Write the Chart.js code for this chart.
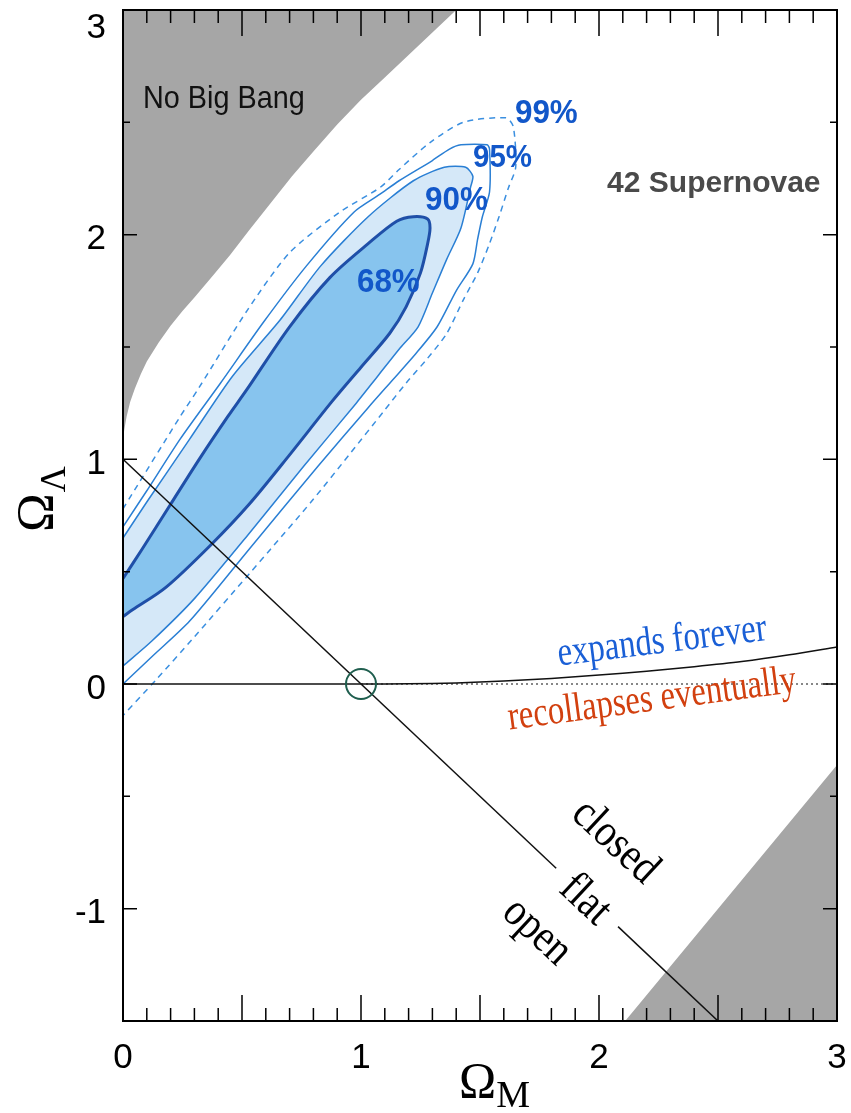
<!DOCTYPE html>
<html>
<head>
<meta charset="utf-8">
<title>Omega_M - Omega_Lambda</title>
<script src="https://cdn.jsdelivr.net/npm/chart.js@4.4.1/dist/chart.umd.min.js"></script>
<style>
  html, body { margin: 0; padding: 0; background: #fff; }
  #wrap { position: relative; width: 851px; height: 1113px; }
</style>
</head>
<body>
<div id="wrap"><canvas id="myChart"></canvas></div>
<script>
// tick labels
const xTickLabels = [0, 1, 2, 3];
const yTickLabels = [3, 2, 1, 0, -1];

// confidence regions, outlines as [Omega_M, Omega_Lambda]
const contour68 = [[0,0.47],[0.08,0.60],[0.20,0.80],[0.32,1.00],[0.44,1.19],[0.52,1.31],[0.70,1.59],[0.87,1.81],[1.03,1.96],[1.15,2.06],[1.22,2.08],[1.28,2.07],[1.29,2.03],[1.28,1.96],[1.25,1.83],[1.19,1.68],[1.12,1.56],[1.00,1.41],[0.88,1.26],[0.70,1.02],[0.53,0.80],[0.37,0.62],[0.18,0.43],[0.04,0.33],[0,0.30]];
const contour90 = [[0,0.65],[0.10,0.81],[0.28,1.09],[0.46,1.37],[0.66,1.62],[0.83,1.86],[1.03,2.08],[1.22,2.24],[1.35,2.30],[1.44,2.30],[1.47,2.26],[1.46,2.21],[1.42,2.03],[1.36,1.89],[1.30,1.74],[1.24,1.59],[1.16,1.49],[1.07,1.37],[0.98,1.25],[0.76,0.97],[0.53,0.67],[0.30,0.38],[0.12,0.19],[0,0.08]];
const contour95 = [[0,0.70],[0.10,0.86],[0.24,1.09],[0.41,1.34],[0.59,1.61],[0.77,1.86],[0.97,2.10],[1.08,2.18],[1.16,2.24],[1.30,2.33],[1.37,2.38],[1.42,2.40],[1.53,2.40],[1.54,2.38],[1.54,2.19],[1.51,2.08],[1.49,1.98],[1.47,1.87],[1.40,1.75],[1.32,1.59],[1.23,1.47],[1.13,1.35],[1.03,1.23],[0.82,0.97],[0.53,0.60],[0.28,0.28],[0.12,0.12],[0,0.00]];
const contour99 = [[0,0.78],[0.24,1.19],[0.32,1.32],[0.52,1.66],[0.70,1.92],[0.91,2.10],[1.08,2.21],[1.16,2.29],[1.29,2.41],[1.43,2.50],[1.61,2.52],[1.64,2.48],[1.65,2.30],[1.62,2.21],[1.58,2.08],[1.54,1.96],[1.49,1.83],[1.43,1.71],[1.36,1.56],[1.28,1.45],[1.19,1.34],[1.10,1.22],[0.95,1.02],[0.79,0.81],[0.62,0.60],[0.53,0.49],[0.30,0.21],[0.14,0.02],[0,-0.14]];

// excluded regions
const noBigBang = [[0,1.08],[0.005,1.13],[0.015,1.19],[0.03,1.255],[0.05,1.315],[0.075,1.38],[0.10,1.435],[0.15,1.52],[0.20,1.595],[0.25,1.66],[0.30,1.72],[0.38,1.82],[0.45,1.91],[0.53,2.02],[0.62,2.14],[0.71,2.26],[0.80,2.37],[0.90,2.49],[1.00,2.60],[1.10,2.70],[1.20,2.80],[1.30,2.90],[1.40,3.00],[0,3.00]];
const bounceRegion = [[2.11,-1.50],[3.00,-0.36],[3.00,-1.50]];

// flat universe line (broken for the "flat" label)
const flatUpper = [[0,1],[1.82,-0.82]];
const flatLower = [[2.08,-1.08],[2.50,-1.50]];

// expands forever / recollapses boundary
const zeroSolid = [[0,0],[1,0]];
const zeroDotted = [[1,0],[3,0]];
const expandEdge = [[1.0,0],[1.2,0.001],[1.4,0.005],[1.6,0.013],[1.8,0.025],[2.0,0.040],[2.2,0.057],[2.4,0.077],[2.6,0.100],[2.8,0.130],[3.0,0.165]];

// Einstein-de Sitter point
const edsPoint = [[1, 0]];

const pts = (arr) => arr.map(p => ({x: p[0], y: p[1]}));

// text placed on the plot (positions in data units, sx = horizontal squeeze)
const notes = [
  {text: 'No Big Bang', x: 0.084, y: 2.565, font: '32px "Liberation Sans"', color: '#111', align: 'left', base: 'alphabetic', angle: 0, sx: 0.9},
  {text: '42 Supernovae', x: 2.034, y: 2.19, font: 'bold 30px "Liberation Sans"', color: '#4a4a4a', align: 'left', base: 'alphabetic', angle: 0, sx: 1},
  {text: '68%', x: 0.983, y: 1.745, font: 'bold 33px "Liberation Sans"', color: '#1257c9', align: 'left', base: 'alphabetic', angle: 0, sx: 0.95},
  {text: '90%', x: 1.269, y: 2.11, font: 'bold 33px "Liberation Sans"', color: '#1257c9', align: 'left', base: 'alphabetic', angle: 0, sx: 0.95},
  {text: '95%', x: 1.471, y: 2.30, font: 'bold 31px "Liberation Sans"', color: '#1257c9', align: 'left', base: 'alphabetic', angle: 0, sx: 0.95},
  {text: '99%', x: 1.647, y: 2.495, font: 'bold 33px "Liberation Sans"', color: '#1257c9', align: 'left', base: 'alphabetic', angle: 0, sx: 0.95},
  {text: 'expands forever', x: 2.265, y: 0.187, font: '41px "Liberation Serif"', color: '#1a5fd6', align: 'center', base: 'middle', angle: -7, sx: 0.8},
  {text: 'recollapses eventually', x: 2.223, y: -0.071, font: '41px "Liberation Serif"', color: '#d2400f', align: 'center', base: 'middle', angle: -7.5, sx: 0.8},
  {text: 'closed', x: 2.067, y: -0.703, font: '46px "Liberation Serif"', color: '#000', align: 'center', base: 'middle', angle: 43, sx: 0.86},
  {text: 'flat', x: 1.941, y: -0.961, font: '46px "Liberation Serif"', color: '#000', align: 'center', base: 'middle', angle: 43, sx: 0.86},
  {text: 'open', x: 1.739, y: -1.104, font: '46px "Liberation Serif"', color: '#000', align: 'center', base: 'middle', angle: 43, sx: 0.86}
];

const frame = {
  id: 'frame',
  afterDatasetsDraw(chart) {
    const {ctx, chartArea: a} = chart;
    const sx = chart.scales.x, sy = chart.scales.y;
    ctx.save();

    // notes
    notes.forEach(n => {
      ctx.save();
      ctx.translate(sx.getPixelForValue(n.x), sy.getPixelForValue(n.y));
      ctx.rotate(n.angle * Math.PI / 180);
      ctx.scale(n.sx, 1);
      ctx.font = n.font;
      ctx.fillStyle = n.color;
      ctx.textAlign = n.align;
      ctx.textBaseline = n.base;
      ctx.fillText(n.text, 0, 0);
      ctx.restore();
    });

    // inward ticks on all four sides
    ctx.strokeStyle = '#000';
    ctx.lineWidth = 1.5;
    ctx.beginPath();
    for (let i = 0; i <= 30; i++) {
      const px = sx.getPixelForValue(i / 10);
      const len = i % 5 === 0 ? 26 : 13;
      ctx.moveTo(px, a.bottom); ctx.lineTo(px, a.bottom - len);
      ctx.moveTo(px, a.top); ctx.lineTo(px, a.top + len);
    }
    for (let i = -3; i <= 6; i++) {
      const py = sy.getPixelForValue(i / 2);
      const len = i % 2 === 0 ? 14 : 7;
      ctx.moveTo(a.left, py); ctx.lineTo(a.left + len, py);
      ctx.moveTo(a.right, py); ctx.lineTo(a.right - len, py);
    }
    ctx.stroke();
    ctx.lineWidth = 2;
    ctx.strokeRect(a.left, a.top, a.right - a.left, a.bottom - a.top);

    // axis titles
    ctx.fillStyle = '#000';
    ctx.textAlign = 'left';
    ctx.textBaseline = 'alphabetic';
    ctx.font = '50px "Liberation Serif"';
    ctx.fillText('\u03A9', 459, 1097);
    let w = ctx.measureText('\u03A9').width;
    ctx.font = '38px "Liberation Serif"';
    ctx.fillText('M', 459 + w, 1107);

    ctx.translate(53, 532);
    ctx.rotate(-Math.PI / 2);
    ctx.font = '52px "Liberation Serif"';
    ctx.fillText('\u03A9', 0, 0);
    w = ctx.measureText('\u03A9').width;
    ctx.font = '36px "Liberation Serif"';
    ctx.fillText('\u039B', w + 1, 12);
    ctx.restore();
  }
};

const tickFont = {family: 'Liberation Sans', size: 35};

const ctx = document.getElementById('myChart').getContext('2d');
const myChart = new Chart(ctx, {
  type: 'line',
  data: {
    datasets: [
      {label: 'eds', data: pts(edsPoint), showLine: false, pointRadius: 15, pointStyle: 'circle',
       pointBackgroundColor: 'rgba(0,0,0,0)', pointBorderColor: '#1f5e4e', pointBorderWidth: 2, order: 1},
      {label: 'flat1', data: pts(flatUpper), borderColor: '#111', borderWidth: 1.5, fill: false, order: 3},
      {label: 'flat2', data: pts(flatLower), borderColor: '#111', borderWidth: 1.5, fill: false, order: 3},
      {label: 'zero', data: pts(zeroSolid), borderColor: '#111', borderWidth: 1.5, fill: false, order: 3},
      {label: 'zeroDot', data: pts(zeroDotted), borderColor: '#111', borderWidth: 1.2, borderDash: [2, 3], fill: false, order: 3},
      {label: 'expand', data: pts(expandEdge), borderColor: '#111', borderWidth: 1.5, fill: false, tension: 0.3, order: 3},
      {label: '99%', data: pts(contour99), borderColor: '#3a8fe0', borderWidth: 1.5, borderDash: [6, 5], fill: false, tension: 0.25, order: 5},
      {label: '95%', data: pts(contour95), borderColor: '#2a7fd4', borderWidth: 1.5, fill: false, tension: 0.25, order: 5},
      {label: '68%', data: pts(contour68), borderColor: '#1f4fa8', borderWidth: 3, backgroundColor: '#87c4ee', fill: 'shape', tension: 0.3, order: 6},
      {label: '90%', data: pts(contour90), borderColor: '#2a7fd4', borderWidth: 1.5, backgroundColor: '#d5e8f8', fill: 'shape', tension: 0.25, order: 7},
      {label: 'noBigBang', data: pts(noBigBang), borderWidth: 0, borderColor: 'rgba(0,0,0,0)', backgroundColor: '#a6a6a6', fill: 'shape', order: 9},
      {label: 'bounce', data: pts(bounceRegion), borderWidth: 0, borderColor: 'rgba(0,0,0,0)', backgroundColor: '#a6a6a6', fill: 'shape', order: 9}
    ]
  },
  options: {
    responsive: true,
    maintainAspectRatio: false,
    animation: false,
    layout: {autoPadding: false, padding: {top: 10, right: 14, left: 0, bottom: 0}},
    elements: {point: {radius: 0, hoverRadius: 0}, line: {tension: 0}},
    plugins: {legend: {display: false}, tooltip: {enabled: false}},
    scales: {
      x: {
        type: 'linear', min: 0, max: 3,
        grid: {display: false, drawTicks: false},
        border: {display: false},
        ticks: {color: '#000', font: tickFont, padding: 16, maxRotation: 0, callback: v => String(v)},
        afterBuildTicks: s => { s.ticks = xTickLabels.map(v => ({value: v})); },
        afterFit: s => { s.height = 92; s.paddingLeft = 0; s.paddingRight = 0; }
      },
      y: {
        type: 'linear', min: -1.5, max: 3,
        grid: {display: false, drawTicks: false},
        border: {display: false},
        ticks: {
          color: '#000', padding: 17, labelOffset: 5,
          font: c => ({family: 'Liberation Sans', size: 35, lineHeight: c.tick && c.tick.value === 3 ? 0.75 : 1.2}),
          callback: v => v === 3 ? ['', '3'] : String(v)
        },
        afterBuildTicks: s => { s.ticks = yTickLabels.map(v => ({value: v})); },
        afterFit: s => { s.width = 123; s.paddingTop = 0; s.paddingBottom = 0; }
      }
    }
  },
  plugins: [frame]
});
</script>
</body>
</html>
